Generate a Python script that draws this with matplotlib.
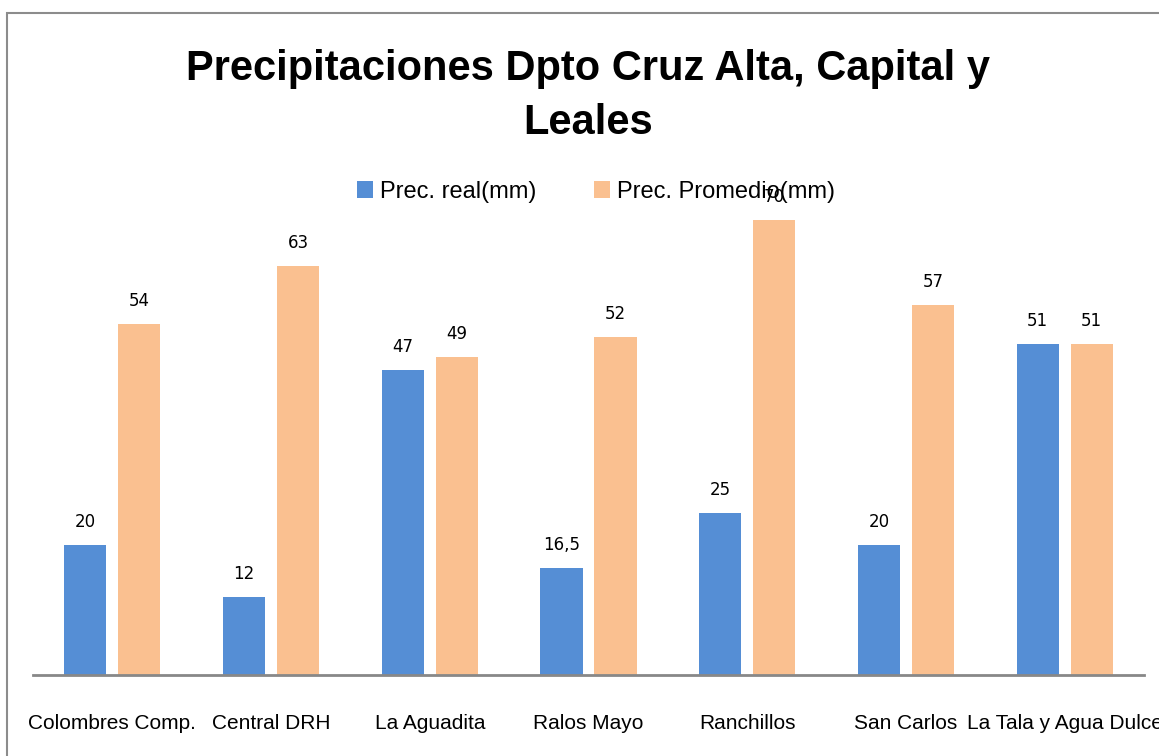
import matplotlib.pyplot as plt
import matplotlib.patches as mpatches
import numpy as np

# datos
estaciones = ["Colombres Comp.", "Central DRH", "La Aguadita", "Ralos Mayo",
              "Ranchillos", "San Carlos", "La Tala y Agua Dulce"]
prec_real = [20, 12, 47, 16.5, 25, 20, 51]
prec_prom = [54, 63, 49, 52, 70, 57, 51]
etiq_real = ["20", "12", "47", "16,5", "25", "20", "51"]
etiq_prom = ["54", "63", "49", "52", "70", "57", "51"]

azul = "#558ED5"
naranja = "#FAC090"
fuente = ["Liberation Sans Narrow", "Liberation Sans", "DejaVu Sans"]

fig = plt.figure(figsize=(11.59, 7.56), dpi=100)

# borde del grafico (recortado a la derecha y abajo)
fig.patches.append(mpatches.Rectangle((7 / 1159, -0.1), 1.2, 1 - 13 / 756 + 0.1,
                                      transform=fig.transFigure, fill=False,
                                      edgecolor="#8c8c8c", linewidth=1.5))

ax = fig.add_axes([33 / 1159, 81 / 756, (1144 - 33) / 1159, (675 - 220) / 756])

x = np.arange(len(estaciones))
off = 0.17
ancho = 0.265
b1 = ax.bar(x - off, prec_real, ancho, color=azul, label="Prec. real(mm)")
b2 = ax.bar(x + off, prec_prom, ancho, color=naranja, label="Prec. Promedio(mm)")

for rect, t in zip(b1, etiq_real):
    ax.annotate(t, (rect.get_x() + rect.get_width() / 2, rect.get_height()),
                xytext=(0, 10), textcoords="offset points", ha="center", va="bottom",
                fontsize=12, family="DejaVu Sans", annotation_clip=False)
for rect, t in zip(b2, etiq_prom):
    ax.annotate(t, (rect.get_x() + rect.get_width() / 2, rect.get_height()),
                xytext=(0, 10), textcoords="offset points", ha="center", va="bottom",
                fontsize=12, family="DejaVu Sans", annotation_clip=False)

ax.set_xlim(-0.5, 6.5)
ax.set_ylim(0, 70)
ax.set_yticks([])
ax.set_xticks(x)
ax.set_xticklabels(estaciones, fontsize=15, family=fuente)
ax.tick_params(axis="x", length=0, pad=28)
for s in ["top", "right", "left"]:
    ax.spines[s].set_visible(False)
ax.spines["bottom"].set_color("#888888")
ax.spines["bottom"].set_linewidth(2)

fig.text(588 / 1159, 1 - 96 / 756, "Precipitaciones Dpto Cruz Alta, Capital y\nLeales",
         ha="center", va="center", fontsize=30, fontweight="bold", family=fuente,
         linespacing=1.45)

fig.legend(loc="center", bbox_to_anchor=(596 / 1159, 1 - 192 / 756), ncol=2,
           frameon=False, prop={"family": fuente, "size": 17}, handlelength=0.7,
           handleheight=0.7, handletextpad=0.3, columnspacing=2.4)

fig.savefig("out.png", dpi=100)
